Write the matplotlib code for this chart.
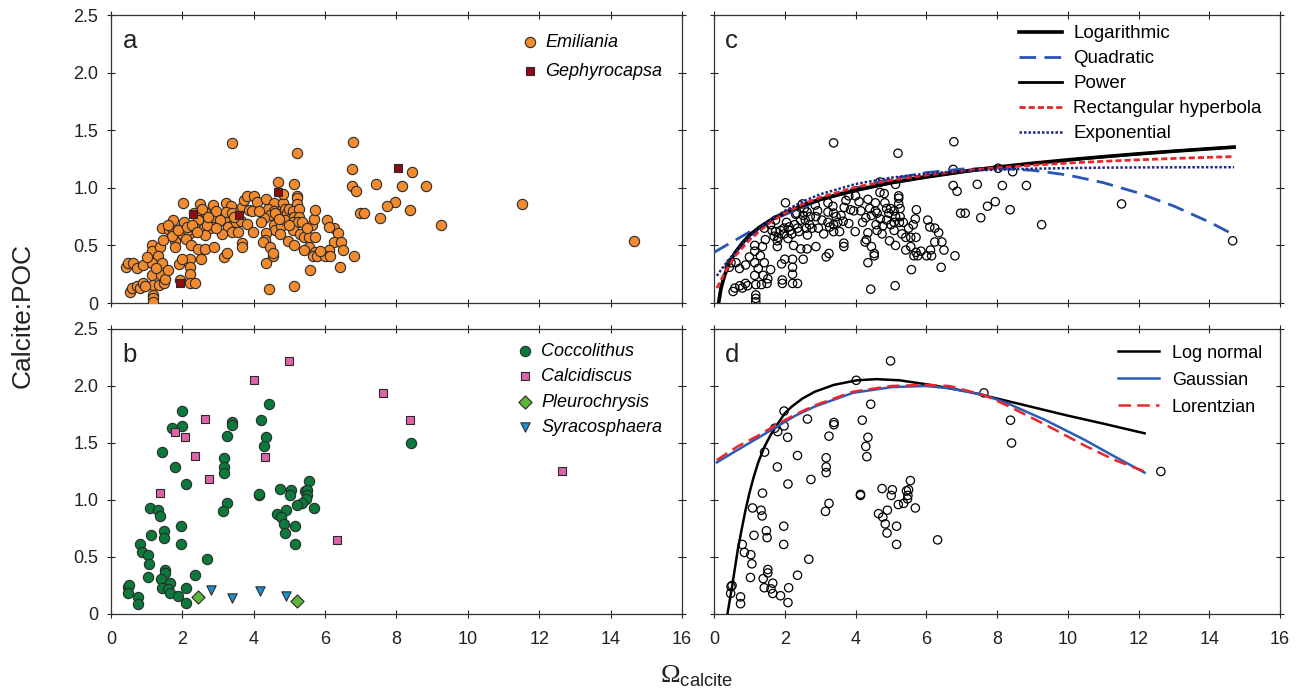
import matplotlib.pyplot as plt

plt.rcParams['font.family'] = ['Liberation Sans', 'DejaVu Sans']
plt.rcParams['mathtext.fontset'] = 'custom'
plt.rcParams['mathtext.rm'] = 'Liberation Serif'
plt.rcParams['mathtext.sf'] = 'Liberation Sans'

# panel a: Emiliania and Gephyrocapsa (also the open circles in c)
emi_x = [0.43, 0.48, 0.62, 0.72, 0.89, 0.54, 0.59, 0.73, 0.80, 0.89,
         1.15, 1.15, 1.37, 1.31, 1.15, 1.42, 1.15, 1.39, 1.18, 1.34,
         1.50, 1.52, 1.18, 1.18, 1.18, 1.42, 1.74, 1.64, 1.74, 1.82,
         1.79, 1.79, 1.91, 1.93, 1.98, 1.98, 2.02, 2.20, 2.15, 2.09,
         2.25, 2.22, 2.22, 2.22, 2.22, 2.36, 2.34, 2.50, 2.52, 2.58,
         2.45, 2.63, 2.36, 2.61, 2.77, 2.64, 2.45, 2.63, 2.52, 2.88,
         2.86, 2.88, 2.93, 3.22, 3.36, 3.22, 3.38, 3.22, 3.38, 3.27,
         3.38, 3.50, 3.65, 3.81, 3.68, 3.73, 3.81, 4.00, 3.86, 3.67,
         3.67, 3.17, 3.25, 3.99, 4.10, 4.35, 4.56, 4.40, 4.56, 4.45,
         4.61, 4.29, 4.58, 4.61, 4.77, 4.83, 4.81, 4.88, 4.94, 4.99,
         4.88, 4.35, 4.31, 4.27, 4.45, 4.53, 4.53, 4.35, 4.43, 4.96,
         4.69, 5.20, 5.13, 5.22, 5.22, 5.22, 5.09, 5.26, 5.13, 5.26,
         5.09, 5.24, 5.09, 5.31, 5.13, 5.42, 5.56, 5.71, 5.63, 5.69,
         5.72, 5.56, 5.42, 5.71, 5.65, 5.76, 5.58, 5.12, 6.04, 6.24,
         6.10, 6.35, 6.24, 6.44, 6.12, 6.01, 6.15, 6.50, 6.81, 6.42,
         6.78, 6.76, 6.76, 6.87, 6.97, 7.10, 7.44, 8.15, 8.83, 8.44,
         7.95, 7.73, 8.37, 7.54, 9.26, 11.52, 14.66, 3.38,
         1.60, 1.70, 1.88, 2.05, 2.12, 2.28, 2.40, 2.70, 2.55, 2.72,
         3.05, 3.45, 3.55, 3.95, 4.15, 4.70, 4.75, 5.00, 5.35, 5.50,
         5.85, 4.20, 3.10, 2.95, 1.45, 1.60, 2.00, 1.00, 0.95, 1.25]
emi_y = [0.31, 0.35, 0.35, 0.30, 0.33, 0.10, 0.13, 0.15, 0.13, 0.17,
         0.50, 0.45, 0.49, 0.41, 0.35, 0.35, 0.24, 0.24, 0.16, 0.16,
         0.17, 0.21, 0.07, 0.04, 0.01, 0.65, 0.72, 0.63, 0.62, 0.57,
         0.54, 0.49, 0.34, 0.20, 0.65, 0.60, 0.87, 0.60, 0.63, 0.56,
         0.50, 0.38, 0.31, 0.25, 0.17, 0.17, 0.78, 0.86, 0.76, 0.72,
         0.72, 0.79, 0.65, 0.65, 0.65, 0.59, 0.47, 0.47, 0.38, 0.49,
         0.85, 0.75, 0.80, 0.87, 0.84, 0.79, 0.78, 0.70, 0.68, 0.66,
         0.62, 0.70, 0.71, 0.69, 0.83, 0.89, 0.93, 0.93, 0.81, 0.52,
         0.49, 0.40, 0.43, 0.62, 0.88, 0.90, 0.87, 0.82, 0.80, 0.76,
         0.78, 0.74, 0.68, 0.63, 0.67, 0.87, 0.95, 0.82, 0.78, 0.82,
         0.72, 0.61, 0.55, 0.53, 0.49, 0.41, 0.43, 0.35, 0.12, 0.54,
         1.05, 1.30, 1.03, 0.93, 0.91, 0.86, 0.80, 0.82, 0.75, 0.75,
         0.70, 0.70, 0.63, 0.60, 0.50, 0.57, 0.57, 0.57, 0.68, 0.73,
         0.81, 0.49, 0.46, 0.44, 0.41, 0.41, 0.29, 0.15, 0.72, 0.65,
         0.66, 0.61, 0.53, 0.53, 0.46, 0.41, 0.41, 0.46, 0.41, 0.31,
         1.40, 1.16, 1.02, 0.97, 0.78, 0.78, 1.03, 1.02, 1.02, 1.14,
         0.88, 0.84, 0.81, 0.74, 0.68, 0.86, 0.54, 1.39,
         0.68, 0.58, 0.63, 0.70, 0.66, 0.68, 0.62, 0.68, 0.82, 0.75,
         0.72, 0.75, 0.62, 0.80, 0.80, 0.73, 0.60, 0.68, 0.70, 0.65,
         0.45, 0.70, 0.60, 0.65, 0.55, 0.29, 0.38, 0.40, 0.15, 0.30]
geph_x = [1.93, 2.31, 3.59, 4.69, 8.03]
geph_y = [0.17, 0.77, 0.76, 0.96, 1.17]

# panel b: Coccolithus, Calcidiscus, Pleurochrysis, Syracosphaera
cocco_x = [1.98, 1.98, 1.72, 1.43, 1.79, 2.09, 1.09, 1.33, 1.36, 1.13,
           1.48, 1.50, 1.97, 1.97, 0.80, 0.86, 1.04, 1.07, 1.03, 2.68,
           1.52, 1.52, 1.39, 1.66, 2.36, 1.42, 1.61, 1.66, 1.88, 2.11,
           2.09, 0.48, 0.51, 0.47, 0.75, 0.75, 3.39, 3.39, 3.25, 3.17,
           3.17, 3.17, 3.25, 3.15, 4.43, 4.19, 4.35, 4.29, 4.14, 4.14,
           4.75, 5.04, 5.01, 5.55, 5.44, 5.50, 5.48, 5.47, 5.36, 5.21,
           5.69, 4.90, 4.65, 4.77, 4.84, 5.16, 4.89, 5.16, 8.41]
cocco_y = [1.78, 1.65, 1.63, 1.42, 1.29, 1.14, 0.93, 0.91, 0.86, 0.69,
           0.73, 0.67, 0.77, 0.61, 0.61, 0.54, 0.52, 0.44, 0.32, 0.48,
           0.39, 0.36, 0.31, 0.27, 0.34, 0.23, 0.22, 0.18, 0.16, 0.23,
           0.10, 0.24, 0.25, 0.18, 0.15, 0.09, 1.68, 1.66, 1.56, 1.37,
           1.29, 1.24, 0.97, 0.90, 1.84, 1.70, 1.55, 1.47, 1.04, 1.05,
           1.10, 1.09, 1.04, 1.17, 1.08, 1.09, 1.04, 1.01, 0.97, 0.96,
           0.93, 0.91, 0.88, 0.85, 0.79, 0.77, 0.71, 0.61, 1.50]
calci_x = [4.99, 4.02, 7.63, 8.38, 2.64, 1.80, 2.08, 2.36, 4.32, 2.74,
           1.37, 12.63, 6.32]
calci_y = [2.22, 2.05, 1.94, 1.70, 1.71, 1.60, 1.55, 1.39, 1.38, 1.18,
           1.06, 1.25, 0.65]
pleuro_x = [2.44, 5.20]
pleuro_y = [0.15, 0.11]
syraco_x = [2.80, 3.39, 4.18, 4.90]
syraco_y = [0.21, 0.14, 0.20, 0.16]

# panel c: fitted curves
log_x = [0.13, 0.2, 0.3, 0.45, 0.6, 0.8, 1.0, 1.3, 1.6, 2.0, 2.5, 3.0,
         4.0, 5.0, 6.0, 7.0, 8.0, 9.0, 10.0, 11.0, 12.0, 13.0, 14.0, 14.7]
log_y = [0.0, 0.13, 0.24, 0.36, 0.44, 0.52, 0.59, 0.66, 0.72, 0.785, 0.85, 0.90,
         0.98, 1.046, 1.098, 1.142, 1.18, 1.213, 1.243, 1.27, 1.295, 1.318, 1.339, 1.353]
pow_x = [0.15, 0.2, 0.3, 0.45, 0.6, 0.8, 1.0, 1.3, 1.6, 2.0, 2.5, 3.0,
         4.0, 5.0, 6.0, 7.0, 8.0, 9.0, 10.0, 11.0, 12.0, 13.0, 14.0, 14.7]
pow_y = [0.05, 0.14, 0.25, 0.36, 0.44, 0.52, 0.585, 0.66, 0.72, 0.78, 0.845, 0.895,
         0.975, 1.04, 1.09, 1.135, 1.175, 1.21, 1.24, 1.268, 1.294, 1.318, 1.34, 1.355]
quad_x = [0, 1, 2, 3, 4, 5, 6, 7, 8, 9, 10, 11, 12, 13, 14, 14.7]
quad_y = [0.44, 0.616, 0.767, 0.894, 0.998, 1.077, 1.132, 1.163, 1.169, 1.152,
          1.111, 1.045, 0.955, 0.841, 0.703, 0.592]
hyp_x = [0.08, 0.2, 0.3, 0.45, 0.6, 0.8, 1.0, 1.3, 1.6, 2.0, 2.5, 3.0,
         4.0, 5.0, 6.0, 7.0, 8.0, 9.0, 10.0, 11.0, 12.0, 13.0, 14.0, 14.7]
hyp_y = [0.13, 0.20, 0.26, 0.34, 0.41, 0.48, 0.545, 0.629, 0.702, 0.78, 0.857, 0.917,
         1.005, 1.066, 1.111, 1.146, 1.174, 1.196, 1.215, 1.23, 1.243, 1.255, 1.265, 1.271]
exp_x = [0.08, 0.2, 0.3, 0.45, 0.6, 0.8, 1.0, 1.3, 1.6, 2.0, 2.5, 3.0,
         4.0, 5.0, 6.0, 7.0, 8.0, 9.0, 10.0, 11.0, 12.0, 13.0, 14.0, 14.7]
exp_y = [0.236, 0.288, 0.33, 0.388, 0.442, 0.509, 0.57, 0.651, 0.721, 0.80, 0.88, 0.944,
         1.033, 1.088, 1.123, 1.145, 1.158, 1.166, 1.171, 1.175, 1.177, 1.178, 1.179, 1.179]

# panel d: fitted curves
lgn_x = [0.38, 0.45, 0.51, 0.58, 0.67, 0.78, 0.89, 1.0, 1.12, 1.25, 1.43, 1.6,
         1.76, 2.0, 2.2, 2.5, 2.85, 3.39, 4.04, 4.59, 5.24, 6.11, 7.2, 8.0,
         9.0, 10.0, 11.0, 12.17]
lgn_y = [0.0, 0.13, 0.24, 0.38, 0.56, 0.74, 0.91, 1.06, 1.20, 1.33, 1.47, 1.57,
         1.65, 1.76, 1.82, 1.89, 1.95, 2.01, 2.05, 2.06, 2.05, 2.01, 1.95, 1.89,
         1.815, 1.74, 1.67, 1.585]
gau_x = [0.08, 0.67, 1.22, 1.76, 2.3, 2.85, 3.93, 5.02, 5.98, 6.65, 7.63, 8.28,
         9.37, 10.46, 11.33, 12.17]
gau_y = [1.33, 1.44, 1.54, 1.64, 1.74, 1.82, 1.94, 1.99, 2.00, 1.98, 1.92, 1.85,
         1.70, 1.53, 1.38, 1.24]
lor_x = [0.08, 0.67, 1.22, 1.76, 2.3, 2.85, 3.93, 5.02, 5.98, 6.65, 7.63, 8.28,
         9.37, 10.46, 11.33, 12.17]
lor_y = [1.35, 1.47, 1.56, 1.66, 1.75, 1.83, 1.95, 2.00, 2.01, 2.00, 1.92, 1.83,
         1.66, 1.48, 1.35, 1.25]

fig = plt.figure(figsize=(13.07, 6.89), dpi=100)
ax_a = fig.add_axes([0.0849, 0.5602, 0.4369, 0.4180])
ax_b = fig.add_axes([0.0849, 0.1089, 0.4369, 0.4136])
ax_c = fig.add_axes([0.5463, 0.5602, 0.4331, 0.4180])
ax_d = fig.add_axes([0.5463, 0.1089, 0.4331, 0.4136])

yticks = [0, 0.5, 1.0, 1.5, 2.0, 2.5]
ylabels = ['0', '0.5', '1.0', '1.5', '2.0', '2.5']
for ax, lab in zip([ax_a, ax_b, ax_c, ax_d], ['a', 'b', 'c', 'd']):
    ax.set_xlim(0, 16)
    ax.set_ylim(0, 2.5)
    ax.set_xticks(range(0, 17, 2))
    ax.set_yticks(yticks)
    ax.set_yticklabels(ylabels)
    ax.tick_params(direction='inout', length=6, width=0.8, top=True, right=True,
                   labelsize=13, colors='#222222', pad=6)
    ax.tick_params(axis='x', pad=9)
    for s in ax.spines.values():
        s.set_linewidth(0.9)
        s.set_color('#333333')
    ax.text(0.02, 0.885, lab, transform=ax.transAxes, fontsize=18.5, color='#222222')

ax_a.tick_params(labelbottom=False)
ax_c.tick_params(labelbottom=False, labelleft=False)
ax_d.tick_params(labelleft=False)

edge = '#2a2a2a'
ax_a.scatter(emi_x, emi_y, s=55, marker='o', facecolor='#f28a2e', edgecolor=edge,
             linewidth=0.8, label='Emiliania', zorder=3)
ax_a.scatter(geph_x, geph_y, s=40, marker='s', facecolor='#8e0c12', edgecolor=edge,
             linewidth=0.8, label='Gephyrocapsa', zorder=4)
ax_a.legend(loc='upper right', bbox_to_anchor=(0.966, 0.935), frameon=False,
            prop={'style': 'italic', 'size': 13}, handlelength=0.8, handletextpad=0.45,
            labelspacing=0.68, borderaxespad=0, borderpad=0, scatterpoints=1)

ax_b.scatter(cocco_x, cocco_y, s=55, marker='o', facecolor='#0b7a3b', edgecolor=edge,
             linewidth=0.8, label='Coccolithus', zorder=3)
ax_b.scatter(calci_x, calci_y, s=38, marker='s', facecolor='#e062a8', edgecolor=edge,
             linewidth=0.8, label='Calcidiscus', zorder=3)
ax_b.scatter(pleuro_x, pleuro_y, s=45, marker='D', facecolor='#5cb63a', edgecolor=edge,
             linewidth=0.8, label='Pleurochrysis', zorder=3)
ax_b.scatter(syraco_x, syraco_y, s=45, marker='v', facecolor='#1f8fd0', edgecolor=edge,
             linewidth=0.8, label='Syracosphaera', zorder=3)
ax_b.legend(loc='upper right', bbox_to_anchor=(0.965, 0.952), frameon=False,
            prop={'style': 'italic', 'size': 13}, handlelength=0.8, handletextpad=0.5,
            labelspacing=0.47, borderaxespad=0, borderpad=0, scatterpoints=1)

ax_c.scatter(emi_x + geph_x, emi_y + geph_y, s=36, marker='o', facecolor='none',
             edgecolor='black', linewidth=0.9, zorder=2)
ax_c.plot(log_x, log_y, color='black', lw=2.6, label='Logarithmic', zorder=4)
ax_c.plot(quad_x, quad_y, color='#2a55b5', lw=2.0, ls=(0, (6, 3)), label='Quadratic', zorder=3)
ax_c.plot(pow_x, pow_y, color='black', lw=2.0, label='Power', zorder=4)
ax_c.plot(hyp_x, hyp_y, color='#e8262b', lw=2.0, ls=(0, (2.2, 1.1)),
          label='Rectangular hyperbola', zorder=5)
ax_c.plot(exp_x, exp_y, color='#1b2a80', lw=1.8, ls=(0, (1, 0.8)), label='Exponential', zorder=5)
ax_c.legend(loc='upper right', bbox_to_anchor=(0.968, 0.965), frameon=False,
            fontsize=13.5, handlelength=2.3, handletextpad=0.6,
            labelspacing=0.42, borderaxespad=0, borderpad=0)

ax_d.scatter(cocco_x + calci_x, cocco_y + calci_y, s=36, marker='o', facecolor='none',
             edgecolor='black', linewidth=0.9, zorder=2)
ax_d.plot(lgn_x, lgn_y, color='black', lw=1.8, label='Log normal', zorder=3)
ax_d.plot(gau_x, gau_y, color='#2b5cb8', lw=1.8, label='Gaussian', zorder=3)
ax_d.plot(lor_x, lor_y, color='#e8262b', lw=1.8, ls=(0, (5, 2.5)), label='Lorentzian', zorder=4)
ax_d.legend(loc='upper right', bbox_to_anchor=(0.968, 0.945), frameon=False,
            fontsize=13, handlelength=2.3, handletextpad=0.7,
            labelspacing=0.55, borderaxespad=0, borderpad=0)

fig.text(0.017, 0.542, 'Calcite:POC', rotation=90, ha='center', va='center',
         fontsize=19, color='#222222')
fig.text(0.533, 0.010, r'$\mathrm{\Omega}_{\mathsf{calcite}}$', ha='center', va='baseline',
         fontsize=19, color='#222222')

fig.savefig('out.png', dpi=100)
